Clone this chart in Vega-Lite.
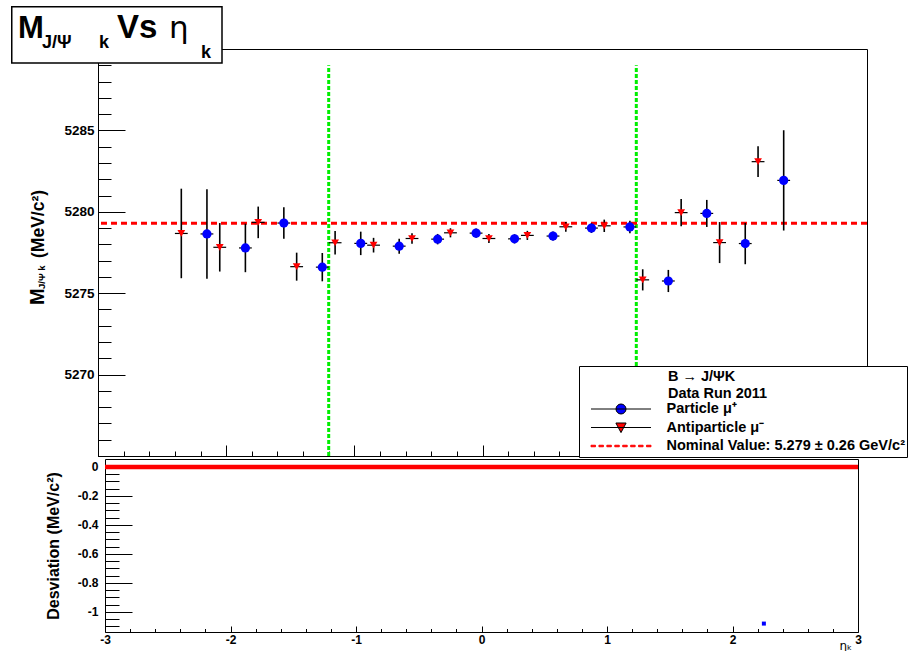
{
  "$schema": "https://vega.github.io/schema/vega-lite/v6.json",
  "padding": {"left": 10, "top": 5, "right": 0, "bottom": 0},
  "background": "white",
  "datasets": {
    "particle": [
      {"eta": -2.15, "mass": 5278.64, "err": 2.75, "xerr": 0.05},
      {"eta": -1.85, "mass": 5277.78, "err": 1.49, "xerr": 0.05},
      {"eta": -1.55, "mass": 5279.31, "err": 0.97, "xerr": 0.05},
      {"eta": -1.25, "mass": 5276.6, "err": 0.87, "xerr": 0.05},
      {"eta": -0.95, "mass": 5278.06, "err": 0.72, "xerr": 0.05},
      {"eta": -0.65, "mass": 5277.89, "err": 0.46, "xerr": 0.05},
      {"eta": -0.35, "mass": 5278.32, "err": 0.32, "xerr": 0.05},
      {"eta": -0.05, "mass": 5278.69, "err": 0.28, "xerr": 0.05},
      {"eta": 0.25, "mass": 5278.34, "err": 0.28, "xerr": 0.05},
      {"eta": 0.55, "mass": 5278.51, "err": 0.28, "xerr": 0.05},
      {"eta": 0.85, "mass": 5279.0, "err": 0.3, "xerr": 0.05},
      {"eta": 1.15, "mass": 5279.07, "err": 0.38, "xerr": 0.05},
      {"eta": 1.45, "mass": 5275.75, "err": 0.68, "xerr": 0.05},
      {"eta": 1.75, "mass": 5279.9, "err": 0.83, "xerr": 0.05},
      {"eta": 2.05, "mass": 5278.05, "err": 1.27, "xerr": 0.05},
      {"eta": 2.35, "mass": 5281.93, "err": 3.08, "xerr": 0.05}
    ],
    "antiparticle": [
      {"eta": -2.35, "mass": 5278.67, "err": 2.75, "xerr": 0.05},
      {"eta": -2.05, "mass": 5277.82, "err": 1.49, "xerr": 0.05},
      {"eta": -1.75, "mass": 5279.35, "err": 0.97, "xerr": 0.05},
      {"eta": -1.45, "mass": 5276.63, "err": 0.86, "xerr": 0.05},
      {"eta": -1.15, "mass": 5278.1, "err": 0.72, "xerr": 0.05},
      {"eta": -0.85, "mass": 5277.95, "err": 0.45, "xerr": 0.05},
      {"eta": -0.55, "mass": 5278.36, "err": 0.32, "xerr": 0.05},
      {"eta": -0.25, "mass": 5278.71, "err": 0.28, "xerr": 0.05},
      {"eta": 0.05, "mass": 5278.36, "err": 0.28, "xerr": 0.05},
      {"eta": 0.35, "mass": 5278.55, "err": 0.28, "xerr": 0.05},
      {"eta": 0.65, "mass": 5279.08, "err": 0.3, "xerr": 0.05},
      {"eta": 0.95, "mass": 5279.14, "err": 0.38, "xerr": 0.05},
      {"eta": 1.25, "mass": 5275.82, "err": 0.65, "xerr": 0.05},
      {"eta": 1.55, "mass": 5279.95, "err": 0.83, "xerr": 0.05},
      {"eta": 1.85, "mass": 5278.11, "err": 1.26, "xerr": 0.05},
      {"eta": 2.15, "mass": 5283.08, "err": 0.95, "xerr": 0.05}
    ],
    "cuts": [{"cut": -1.2}, {"cut": 1.2}],
    "nominal": [{"value": 5279.3}],
    "deviation": [{"eta": 2.25, "dev": -1.08}],
    "zero": [{"dev": 0}],
    "annotation": [{}],
    "legendItems": [
      {"series": "Particle μ⁺"},
      {"series": "Antiparticle μ⁻"},
      {"series": "Nominal Value: 5.279 ± 0.26 GeV/c²"}
    ]
  },
  "vconcat": [
    {
      "width": 769,
      "height": 407,
      "resolve": {"scale": {"color": "independent", "shape": "independent", "stroke": "independent"}},
      "layer": [
        {
          "data": {"name": "cuts"},
          "mark": {"type": "rule", "color": "#00ee00", "strokeWidth": 3, "strokeDash": [4, 2]},
          "encoding": {
            "x": {"field": "cut", "type": "quantitative",
              "scale": {"domain": [-3, 3], "nice": false, "zero": false},
              "axis": {"title": null, "labels": false, "tickCount": 200, "values": [-3,-2.8,-2.6,-2.4,-2.2,-2,-1.8,-1.6,-1.4,-1.2,-1,-0.8,-0.6,-0.4,-0.2,0,0.2,0.4,0.6,0.8,1,1.2,1.4,1.6,1.8,2,2.2,2.4,2.6,2.8,3],
                "tickSize": {"condition": {"test": "abs(datum.value - round(datum.value)) < 0.001", "value": -11}, "value": -5}}},
            "y": {"datum": 5265, "type": "quantitative"},
            "y2": {"datum": 5289}
          }
        },
        {
          "data": {"name": "nominal"},
          "mark": {"type": "rule", "color": "#ff0000", "strokeWidth": 3, "strokeDash": [6, 4]},
          "encoding": {
            "y": {"field": "value", "type": "quantitative",
              "scale": {"domain": [5265, 5290], "nice": false, "zero": false},
              "axis": {"title": null, "format": "d", "tickCount": 200, "values": [5265,5266,5267,5268,5269,5270,5271,5272,5273,5274,5275,5276,5277,5278,5279,5280,5281,5282,5283,5284,5285,5286,5287,5288,5289,5290],
                "labelExpr": "datum.value % 5 === 0 && datum.value > 5265 && datum.value < 5290 ? datum.label : ''",
                "labelFontSize": 13.5, "labelPadding": 31,
                "tickSize": {"condition": {"test": "datum.value % 5 === 0", "value": -27}, "value": -13}}}
          }
        },
        {
          "data": {"name": "particle"},
          "mark": {"type": "errorbar", "color": "black", "thickness": 1.6},
          "encoding": {
            "x": {"field": "eta", "type": "quantitative"},
            "y": {"field": "mass", "type": "quantitative"},
            "yError": {"field": "err"}
          }
        },
        {
          "data": {"name": "particle"},
          "mark": {"type": "errorbar", "color": "black", "thickness": 1.2},
          "encoding": {
            "y": {"field": "mass", "type": "quantitative"},
            "x": {"field": "eta", "type": "quantitative"},
            "xError": {"field": "xerr"}
          }
        },
        {
          "data": {"name": "antiparticle"},
          "mark": {"type": "errorbar", "color": "black", "thickness": 1.6},
          "encoding": {
            "x": {"field": "eta", "type": "quantitative"},
            "y": {"field": "mass", "type": "quantitative"},
            "yError": {"field": "err"}
          }
        },
        {
          "data": {"name": "antiparticle"},
          "mark": {"type": "errorbar", "color": "black", "thickness": 1.2},
          "encoding": {
            "y": {"field": "mass", "type": "quantitative"},
            "x": {"field": "eta", "type": "quantitative"},
            "xError": {"field": "xerr"}
          }
        },
        {
          "data": {"name": "particle"},
          "mark": {"type": "point", "shape": "circle", "filled": true, "color": "#0000ff", "size": 85, "opacity": 1},
          "encoding": {
            "x": {"field": "eta", "type": "quantitative"},
            "y": {"field": "mass", "type": "quantitative"}
          }
        },
        {
          "data": {"name": "antiparticle"},
          "mark": {"type": "point", "shape": "triangle-down", "filled": true, "color": "#ff0000", "size": 60, "opacity": 1},
          "encoding": {
            "x": {"field": "eta", "type": "quantitative"},
            "y": {"field": "mass", "type": "quantitative"}
          }
        },
        {
          "data": {"name": "legendItems"},
          "transform": [{"filter": "false"}],
          "mark": {"type": "point", "filled": true, "strokeWidth": 1, "opacity": 1},
          "encoding": {
            "color": {"field": "series", "type": "nominal",
              "scale": {"domain": ["Particle μ⁺", "Antiparticle μ⁻", "Nominal Value: 5.279 ± 0.26 GeV/c²"], "range": ["#0000ff", "#ff0000", "#ff0000"]},
              "legend": {
                "title": ["B → J/ΨK", "Data Run 2011"],
                "orient": "none", "legendX": 481, "legendY": 317, "direction": "vertical",
                "fillColor": "white", "strokeColor": "black", "padding": 2, "cornerRadius": 0,
                "titleFont": "Liberation Sans", "titleFontSize": 14.5, "titleFontWeight": "bold", "titleColor": "black",
                "titleLineHeight": 17, "titleBaseline": "top", "titlePadding": 1, "titleLimit": 400,
                "labelFont": "Liberation Sans", "labelFontSize": 14.5, "labelFontWeight": "bold", "labelColor": "black",
                "labelOffset": 15, "labelLimit": 400,
                "symbolSize": 3600, "symbolOffset": 9.5, "symbolStrokeWidth": 1, "symbolOpacity": 1,
                "clipHeight": 17, "rowPadding": 1.5,
                "encode": {"title": {"update": {"dx": {"value": 87}, "dy": {"value": 2}}}}
              }},
            "shape": {"field": "series", "type": "nominal",
              "scale": {"domain": ["Particle μ⁺", "Antiparticle μ⁻", "Nominal Value: 5.279 ± 0.26 GeV/c²"],
                "range": [
                  "M-1,0L1,0M-0.1667,0A0.1667,0.1667,0,1,0,0.1667,0A0.1667,0.1667,0,1,0,-0.1667,0Z",
                  "M-1,0L1,0M-0.17,-0.15L0.17,-0.15L0,0.17Z",
                  "M-1,-0.025H-0.85V0.025H-1ZM-0.7357,-0.025H-0.5857V0.025H-0.7357ZM-0.4714,-0.025H-0.3214V0.025H-0.4714ZM-0.2071,-0.025H-0.0571V0.025H-0.2071ZM0.0571,-0.025H0.2071V0.025H0.0571ZM0.3214,-0.025H0.4714V0.025H0.3214ZM0.5857,-0.025H0.7357V0.025H0.5857ZM0.85,-0.025H1V0.025H0.85Z"
                ]}},
            "stroke": {"field": "series", "type": "nominal",
              "scale": {"domain": ["Particle μ⁺", "Antiparticle μ⁻", "Nominal Value: 5.279 ± 0.26 GeV/c²"], "range": ["#000000", "#000000", "#ff0000"]}}
          }
        },
        {
          "data": {"name": "annotation"},
          "mark": {"type": "rect", "fill": "white", "stroke": "black", "strokeWidth": 1.5},
          "encoding": {
            "x": {"datum": -3.6729, "type": "quantitative"},
            "x2": {"datum": -2.0325},
            "y": {"datum": 5292.595, "type": "quantitative"},
            "y2": {"datum": 5289.14}
          }
        },
        {
          "data": {"name": "annotation"},
          "mark": {"type": "text", "text": "M", "font": "Liberation Sans", "fontWeight": "bold", "fontSize": 31, "align": "left", "baseline": "alphabetic", "color": "black"},
          "encoding": {"x": {"datum": -3.6242, "type": "quantitative"}, "y": {"datum": 5290.676, "type": "quantitative"}}
        },
        {
          "data": {"name": "annotation"},
          "mark": {"type": "text", "text": "J/Ψ", "font": "Liberation Sans", "fontWeight": "bold", "fontSize": 18, "align": "left", "baseline": "alphabetic", "color": "black"},
          "encoding": {"x": {"datum": -3.4369, "type": "quantitative"}, "y": {"datum": 5290.061, "type": "quantitative"}}
        },
        {
          "data": {"name": "annotation"},
          "mark": {"type": "text", "text": "k", "font": "Liberation Sans", "fontWeight": "bold", "fontSize": 18, "align": "left", "baseline": "alphabetic", "color": "black"},
          "encoding": {"x": {"datum": -2.9922, "type": "quantitative"}, "y": {"datum": 5290.061, "type": "quantitative"}}
        },
        {
          "data": {"name": "annotation"},
          "mark": {"type": "text", "text": "Vs", "font": "Liberation Sans", "fontWeight": "bold", "fontSize": 33, "align": "left", "baseline": "alphabetic", "color": "black"},
          "encoding": {"x": {"datum": -2.8518, "type": "quantitative"}, "y": {"datum": 5290.676, "type": "quantitative"}}
        },
        {
          "data": {"name": "annotation"},
          "mark": {"type": "text", "text": "η", "font": "DejaVu Sans", "fontWeight": "normal", "fontSize": 31, "align": "left", "baseline": "alphabetic", "color": "black"},
          "encoding": {"x": {"datum": -2.4460, "type": "quantitative"}, "y": {"datum": 5290.676, "type": "quantitative"}}
        },
        {
          "data": {"name": "annotation"},
          "mark": {"type": "text", "text": "k", "font": "Liberation Sans", "fontWeight": "bold", "fontSize": 18, "align": "left", "baseline": "alphabetic", "color": "black"},
          "encoding": {"x": {"datum": -2.1964, "type": "quantitative"}, "y": {"datum": 5289.447, "type": "quantitative"}}
        },
        {
          "data": {"name": "annotation"},
          "mark": {"type": "text", "text": "M", "angle": 270, "font": "Liberation Sans", "fontWeight": "bold", "fontSize": 20, "align": "left", "baseline": "alphabetic", "color": "black"},
          "encoding": {"x": {"datum": -3.4213, "type": "quantitative"}, "y": {"datum": 5274.275, "type": "quantitative"}}
        },
        {
          "data": {"name": "annotation"},
          "mark": {"type": "text", "text": "J/Ψ k", "angle": 270, "font": "Liberation Sans", "fontWeight": "bold", "fontSize": 9.5, "align": "left", "baseline": "alphabetic", "color": "black"},
          "encoding": {"x": {"datum": -3.4135, "type": "quantitative"}, "y": {"datum": 5275.258, "type": "quantitative"}}
        },
        {
          "data": {"name": "annotation"},
          "mark": {"type": "text", "text": "(MeV/c²)", "angle": 270, "font": "Liberation Sans", "fontWeight": "bold", "fontSize": 17.5, "align": "left", "baseline": "alphabetic", "color": "black"},
          "encoding": {"x": {"datum": -3.4213, "type": "quantitative"}, "y": {"datum": 5277.162, "type": "quantitative"}}
        }
      ]
    },
    {
      "width": 760,
      "height": 173,
      "view": {"stroke": null, "fill": "white"},
      "resolve": {"axis": {"x": "independent", "y": "independent"}},
      "layer": [
        {
          "data": {"name": "zero"},
          "mark": {"type": "rule", "color": "#ff0000", "strokeWidth": 4.5},
          "encoding": {
            "y": {"field": "dev", "type": "quantitative",
              "scale": {"domain": [-1.138, 0.055], "nice": false, "zero": false},
              "axis": {"orient": "left", "offset": -7, "tickCount": 200, "values": [0,-0.05,-0.1,-0.15,-0.2,-0.25,-0.3,-0.35,-0.4,-0.45,-0.5,-0.55,-0.6,-0.65,-0.7,-0.75,-0.8,-0.85,-0.9,-0.95,-1,-1.05,-1.1],
                "labelExpr": "abs(datum.value*5 - round(datum.value*5)) < 0.001 ? '' + datum.value : ''",
                "labelFontSize": 12, "labelPadding": 34,
                "tickSize": {"condition": {"test": "abs(datum.value*5 - round(datum.value*5)) < 0.001", "value": -27}, "value": -14},
                "title": "Desviation (MeV/c²)", "titleFontSize": 16, "titleX": -44, "titleY": 86.5}},
            "x": {"datum": -3, "type": "quantitative",
              "scale": {"domain": [-3, 3], "range": [7, 760], "nice": false, "zero": false},
              "axis": {"orient": "bottom", "tickCount": 200, "values": [-3,-2.8,-2.6,-2.4,-2.2,-2,-1.8,-1.6,-1.4,-1.2,-1,-0.8,-0.6,-0.4,-0.2,0,0.2,0.4,0.6,0.8,1,1.2,1.4,1.6,1.8,2,2.2,2.4,2.6,2.8,3],
                "labelExpr": "abs(datum.value - round(datum.value)) < 0.001 ? '' + round(datum.value) : ''",
                "labelFontSize": 12, "labelPadding": 8,
                "tickSize": {"condition": {"test": "abs(datum.value - round(datum.value)) < 0.001", "value": -6}, "value": -3.5},
                "title": "ηₖ", "titleFont": "DejaVu Sans", "titleFontWeight": "normal", "titleFontSize": 12,
                "titleAlign": "left", "titleBaseline": "middle", "titleX": 741, "titleY": 13}},
            "x2": {"datum": 3}
          }
        },
        {
          "data": {"name": "deviation"},
          "mark": {"type": "point", "shape": "square", "filled": true, "color": "#0000ff", "size": 16, "opacity": 1},
          "encoding": {
            "x": {"field": "eta", "type": "quantitative",
              "axis": {"orient": "top", "labels": false, "ticks": false, "title": null, "domain": true}},
            "y": {"field": "dev", "type": "quantitative",
              "axis": {"orient": "right", "labels": false, "ticks": false, "title": null, "domain": true}}
          }
        }
      ]
    }
  ],
  "spacing": 3,
  "bounds": "flush",
  "config": {
    "font": "Liberation Sans",
    "view": {"stroke": "black", "strokeWidth": 1},
    "axis": {
      "grid": false, "domainColor": "black", "domainWidth": 1, "tickColor": "black", "tickWidth": 1,
      "labelColor": "black", "labelFont": "Liberation Sans", "labelFontWeight": "bold",
      "labelOverlap": false, "labelFlush": false, "labelBound": false,
      "titleColor": "black", "titleFont": "Liberation Sans", "titleFontWeight": "bold"
    }
  }
}
